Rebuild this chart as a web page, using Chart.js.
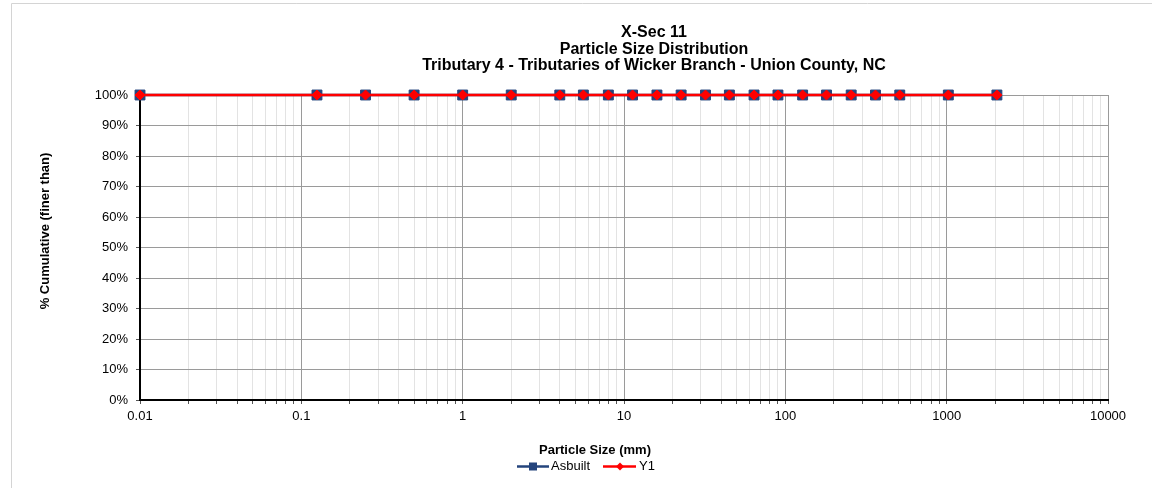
<!DOCTYPE html>
<html>
<head>
<meta charset="utf-8">
<script src="https://cdn.jsdelivr.net/npm/chart.js@4/dist/chart.umd.min.js"></script>
<style>
  body { margin: 0; background: #fff; }
  canvas { display: block; }
</style>
</head>
<body>
<canvas id="psdChart" width="1152" height="488"></canvas>
<script>
// sieve sizes (mm) and cumulative % finer
const particleSizes = [0.01, 0.125, 0.25, 0.5, 1, 2, 4, 5.6, 8, 11.3, 16, 22.6, 32, 45, 64, 90, 128, 180, 256, 362, 512, 1024, 2048];
const asbuiltPct = [100, 100, 100, 100, 100, 100, 100, 100, 100, 100, 100, 100, 100, 100, 100, 100, 100, 100, 100, 100, 100, 100, 100];
const y1Pct = [100, 100, 100, 100, 100, 100, 100, 100, 100, 100, 100, 100, 100, 100, 100, 100, 100, 100, 100, 100, 100, 100, 100];
const xTickLabels = ['0.01', '0.1', '1', '10', '100', '1000', '10000'];
const titleLines = ['X-Sec 11', 'Particle Size Distribution', 'Tributary 4 - Tributaries of Wicker Branch - Union County, NC'];

const FONT = '"Liberation Sans", Arial, sans-serif';
const BLUE = '#24447c';
const RED = '#ff0000';

function toPoints(xs, ys) {
    return xs.map(function (x, i) { return { x: x, y: ys[i] }; });
}

// majors from the tick labels, minors at 2..9 of each decade
const majorVals = xTickLabels.map(Number);
const xTickVals = [];
majorVals.forEach(function (v, i) {
    xTickVals.push(v);
    if (i < majorVals.length - 1) {
        for (let m = 2; m <= 9; m++) xTickVals.push(v * m);
    }
});
function isMajor(v) {
    return majorVals.some(function (m) { return Math.abs(v - m) / m < 1e-9; });
}

const decorPlugin = {
    id: 'decor',
    beforeDraw: function (chart) {
        const ctx = chart.ctx;
        ctx.save();
        ctx.strokeStyle = '#d4d4d4';
        ctx.lineWidth = 1;
        ctx.beginPath();
        ctx.moveTo(11.5, 490);
        ctx.lineTo(11.5, 3.5);
        ctx.lineTo(1160, 3.5);
        ctx.stroke();
        ctx.restore();
    },
    afterDraw: function (chart) {
        const ctx = chart.ctx;
        ctx.save();
        ctx.fillStyle = '#000';
        ctx.textAlign = 'center';
        ctx.textBaseline = 'middle';
        ctx.font = 'bold 16px ' + FONT;
        titleLines.forEach(function (t, i) {
            ctx.fillText(t, 654, 33 + i * 16.5);
        });

        ctx.font = 'bold 13px ' + FONT;
        ctx.fillText('Particle Size (mm)', 595, 450);

        ctx.save();
        ctx.translate(45, 231);
        ctx.rotate(-Math.PI / 2);
        ctx.fillText('% Cumulative (finer than)', 0, 0);
        ctx.restore();

        // legend
        const ly = 466.5;
        ctx.lineWidth = 2.5;
        ctx.strokeStyle = BLUE;
        ctx.beginPath(); ctx.moveTo(517, ly); ctx.lineTo(549, ly); ctx.stroke();
        ctx.fillStyle = BLUE;
        ctx.fillRect(529, ly - 4, 8, 8);
        ctx.strokeStyle = RED;
        ctx.beginPath(); ctx.moveTo(603, ly); ctx.lineTo(636, ly); ctx.stroke();
        ctx.fillStyle = RED;
        ctx.beginPath();
        ctx.moveTo(620, ly - 4); ctx.lineTo(624, ly); ctx.lineTo(620, ly + 4); ctx.lineTo(616, ly);
        ctx.closePath(); ctx.fill();

        ctx.fillStyle = '#000';
        ctx.font = '13px ' + FONT;
        ctx.textAlign = 'left';
        ctx.fillText('Asbuilt', 551, ly);
        ctx.fillText('Y1', 639, ly);
        ctx.restore();
    }
};

const ctx = document.getElementById('psdChart').getContext('2d');
const psdChart = new Chart(ctx, {
    type: 'scatter',
    data: {
        datasets: [{
            label: 'Asbuilt',
            data: toPoints(particleSizes, asbuiltPct),
            order: 1,
            showLine: true,
            borderColor: BLUE,
            backgroundColor: BLUE,
            borderWidth: 2.5,
            pointStyle: 'rect',
            pointRadius: 7,
            pointBorderWidth: 1,
            clip: false
        }, {
            label: 'Y1',
            data: toPoints(particleSizes, y1Pct),
            order: 0,
            showLine: true,
            borderColor: RED,
            backgroundColor: RED,
            borderWidth: 2.5,
            pointStyle: 'rectRot',
            pointRadius: 5,
            pointBorderWidth: 1,
            clip: false
        }]
    },
    options: {
        responsive: false,
        animation: false,
        layout: { padding: { left: 0, top: 95, right: 44, bottom: 0 } },
        plugins: {
            legend: { display: false },
            title: { display: false },
            tooltip: { enabled: false }
        },
        scales: {
            x: {
                type: 'logarithmic',
                min: 0.01,
                max: 10000,
                afterFit: function (s) { s.height = 88; },
                afterBuildTicks: function (s) {
                    s.ticks = xTickVals.map(function (v) { return { value: v, major: isMajor(v) }; });
                },
                border: { color: '#000', width: 2 },
                grid: {
                    color: function (c) { return c.tick && isMajor(c.tick.value) ? '#9a9a9a' : '#e3e3e3'; },
                    tickColor: '#555',
                    tickLength: 4,
                    drawTicks: true
                },
                ticks: {
                    autoSkip: false,
                    maxRotation: 0,
                    padding: 5,
                    color: '#000',
                    font: { family: FONT, size: 13 },
                    callback: function (v) {
                        const i = majorVals.findIndex(function (m) { return Math.abs(v - m) / m < 1e-9; });
                        return i >= 0 ? xTickLabels[i] : '';
                    }
                }
            },
            y: {
                min: 0,
                max: 100,
                afterFit: function (s) { s.width = 140; },
                border: { color: '#000', width: 2 },
                grid: {
                    color: function (c) { return c.tick && c.tick.value % 10 === 0 ? '#9a9a9a' : 'rgba(0,0,0,0)'; },
                    tickColor: '#555',
                    tickLength: 4
                },
                ticks: {
                    stepSize: 5,
                    padding: 8,
                    color: '#000',
                    font: { family: FONT, size: 13 },
                    callback: function (v) { return v % 10 === 0 ? v + '%' : ''; }
                }
            }
        }
    },
    plugins: [decorPlugin]
});
</script>
</body>
</html>
